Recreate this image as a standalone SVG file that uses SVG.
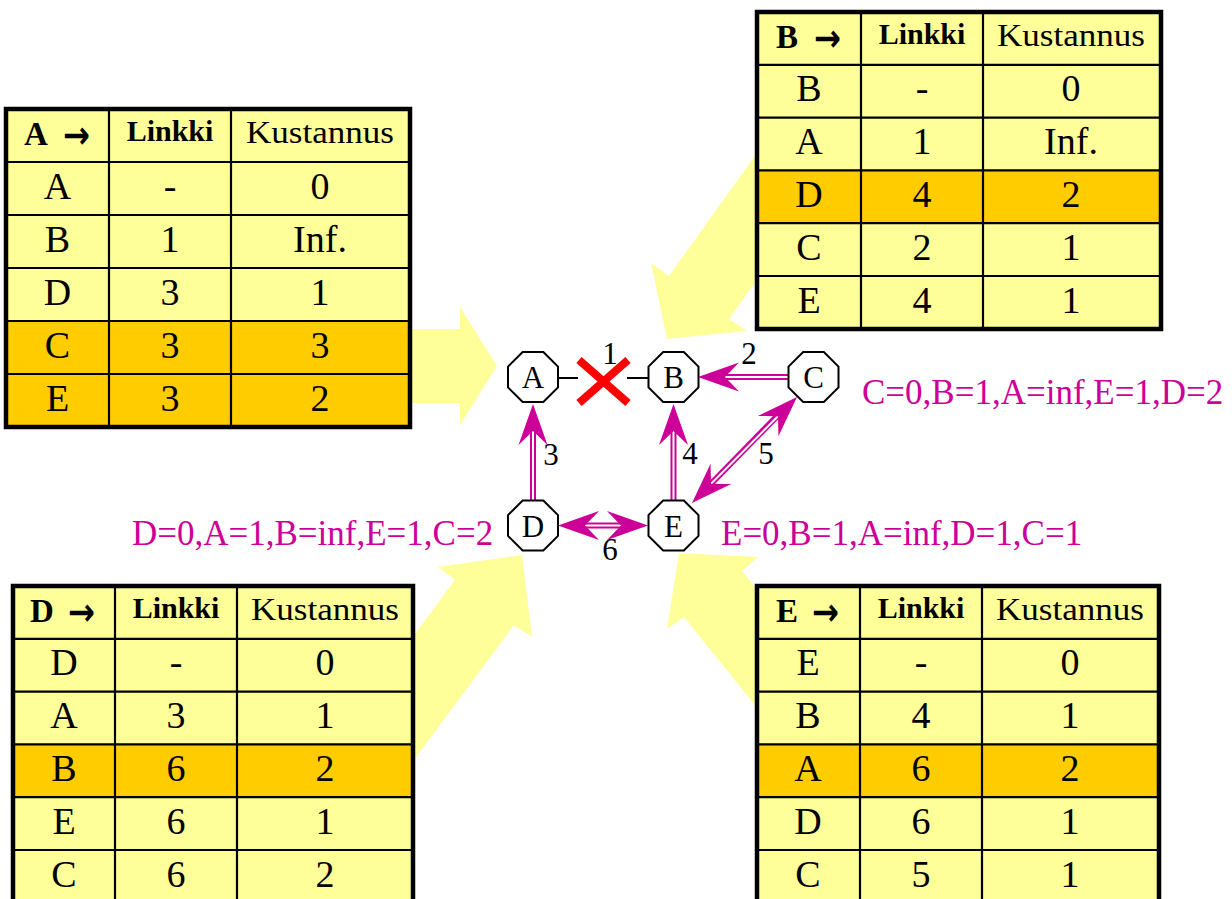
<svg xmlns="http://www.w3.org/2000/svg" width="1232" height="899" viewBox="0 0 1232 899">
<style>
.bg{fill:#FFFFFF}
.ya{fill:#FFFF99}
.ty{fill:#FFFF99}
.to{fill:#FFCC00}
.grid{stroke:#000;stroke-width:2.2;fill:none}
.outer{stroke:#000;stroke-width:4.5;fill:none}
.cell{font-family:"Liberation Serif","Times New Roman",serif;font-size:38px;text-anchor:middle;fill:#000}
.hb{font-family:"Liberation Serif","Times New Roman",serif;font-size:30px;font-weight:bold;text-anchor:middle;fill:#000}
.hl{font-family:"Liberation Serif","Times New Roman",serif;font-size:33px;font-weight:bold;fill:#000}
.har{font-family:"DejaVu Sans",sans-serif;font-size:38px;font-weight:bold;fill:#000}
.hk{font-family:"Liberation Serif","Times New Roman",serif;font-size:32px;text-anchor:middle;fill:#000}
.oct{fill:#fff;stroke:#000;stroke-width:2}
.nl{font-family:"Liberation Serif","Times New Roman",serif;font-size:31px;text-anchor:middle;fill:#000}
.ll{font-family:"Liberation Serif","Times New Roman",serif;font-size:31px;text-anchor:middle;fill:#000}
.mag{font-family:"Liberation Serif","Times New Roman",serif;font-size:35px;fill:#CC0099}
.dl{stroke:#CC0099;stroke-width:6;fill:none}
.dw{stroke:#fff;stroke-width:2;fill:none}
.blk{stroke:#000;stroke-width:2}
.x{stroke:#FF0000;stroke-width:8;stroke-linecap:butt}
</style>
<defs>
<polygon id="oct" points="-10.35,-25 10.35,-25 25,-10.35 25,10.35 10.35,25 -10.35,25 -25,10.35 -25,-10.35"/>
<marker id="ah" markerUnits="userSpaceOnUse" markerWidth="46" markerHeight="34" viewBox="-43 -17 46 34" refX="0" refY="0" orient="auto-start-reverse">
<path d="M0,0 L-41,-14.5 L-27,0 L-41,14.5 Z" fill="#CC0099"/>
</marker>
</defs>
<rect class="bg" x="0" y="0" width="1232" height="899"/>

<g id="yellow-arrows">
<polygon class="ya" points="300,329 460,329 460,307 497,366 460,425 460,403 300,403"/>
<polygon class="ya" points="815,72 669,276 651,263 667,339 747,331 729,319 875,115"/>
<polygon class="ya" points="306,781 455,580 438,567 522,555 532,637 514,625 365,826"/>
<polygon class="ya" points="899,766 742,571 758,557 679,553 667,629 684,617 841,812"/>
</g>

<g id="table-A">
<rect class="ty" x="6" y="109" width="404" height="318"/>
<rect class="to" x="6" y="321" width="404" height="106"/>
<path class="grid" d="M109,109V427M231,109V427M6,162H410M6,215H410M6,268H410M6,321H410M6,374H410"/>
<rect class="outer" x="6" y="109" width="404" height="318"/>
<text class="hl" x="24" y="145">A</text><text class="har" x="63" y="148" textLength="27" lengthAdjust="spacingAndGlyphs">→</text>
<text class="hb" x="170" y="141">Linkki</text>
<text class="hk" x="320" y="143" textLength="148" lengthAdjust="spacingAndGlyphs">Kustannus</text>
<text class="cell" x="57.5" y="199">A</text><text class="cell" x="170" y="199">-</text><text class="cell" x="320" y="199">0</text>
<text class="cell" x="57.5" y="252">B</text><text class="cell" x="170" y="252">1</text><text class="cell" x="320" y="252">Inf.</text>
<text class="cell" x="57.5" y="305">D</text><text class="cell" x="170" y="305">3</text><text class="cell" x="320" y="305">1</text>
<text class="cell" x="57.5" y="358">C</text><text class="cell" x="170" y="358">3</text><text class="cell" x="320" y="358">3</text>
<text class="cell" x="57.5" y="411">E</text><text class="cell" x="170" y="411">3</text><text class="cell" x="320" y="411">2</text>
</g>

<g id="table-B">
<rect class="ty" x="757" y="12" width="404" height="317"/>
<rect class="to" x="757" y="170.4" width="404" height="52.8"/>
<path class="grid" d="M861,12V329M983,12V329M757,64.8H1161M757,117.6H1161M757,170.4H1161M757,223.2H1161M757,276H1161"/>
<rect class="outer" x="757" y="12" width="404" height="317"/>
<text class="hl" x="776" y="48">B</text><text class="har" x="814" y="51" textLength="27" lengthAdjust="spacingAndGlyphs">→</text>
<text class="hb" x="922" y="44">Linkki</text>
<text class="hk" x="1071" y="46" textLength="148" lengthAdjust="spacingAndGlyphs">Kustannus</text>
<text class="cell" x="809" y="101">B</text><text class="cell" x="922" y="101">-</text><text class="cell" x="1071" y="101">0</text>
<text class="cell" x="809" y="154">A</text><text class="cell" x="922" y="154">1</text><text class="cell" x="1071" y="154">Inf.</text>
<text class="cell" x="809" y="207">D</text><text class="cell" x="922" y="207">4</text><text class="cell" x="1071" y="207">2</text>
<text class="cell" x="809" y="260">C</text><text class="cell" x="922" y="260">2</text><text class="cell" x="1071" y="260">1</text>
<text class="cell" x="809" y="313">E</text><text class="cell" x="922" y="313">4</text><text class="cell" x="1071" y="313">1</text>
</g>

<g id="table-D">
<rect class="ty" x="13" y="586" width="400" height="317"/>
<rect class="to" x="13" y="744.4" width="400" height="52.8"/>
<path class="grid" d="M115,586V903M237,586V903M13,638.8H413M13,691.6H413M13,744.4H413M13,797.2H413M13,850H413"/>
<rect class="outer" x="13" y="586" width="400" height="317"/>
<text class="hl" x="30" y="622">D</text><text class="har" x="68" y="625" textLength="27" lengthAdjust="spacingAndGlyphs">→</text>
<text class="hb" x="176" y="618">Linkki</text>
<text class="hk" x="325" y="620" textLength="148" lengthAdjust="spacingAndGlyphs">Kustannus</text>
<text class="cell" x="64" y="675">D</text><text class="cell" x="176" y="675">-</text><text class="cell" x="325" y="675">0</text>
<text class="cell" x="64" y="728">A</text><text class="cell" x="176" y="728">3</text><text class="cell" x="325" y="728">1</text>
<text class="cell" x="64" y="781">B</text><text class="cell" x="176" y="781">6</text><text class="cell" x="325" y="781">2</text>
<text class="cell" x="64" y="834">E</text><text class="cell" x="176" y="834">6</text><text class="cell" x="325" y="834">1</text>
<text class="cell" x="64" y="887">C</text><text class="cell" x="176" y="887">6</text><text class="cell" x="325" y="887">2</text>
</g>

<g id="table-E">
<rect class="ty" x="757" y="586" width="402" height="317"/>
<rect class="to" x="757" y="744.4" width="402" height="52.8"/>
<path class="grid" d="M860,586V903M982,586V903M757,638.8H1159M757,691.6H1159M757,744.4H1159M757,797.2H1159M757,850H1159"/>
<rect class="outer" x="757" y="586" width="402" height="317"/>
<text class="hl" x="776" y="622">E</text><text class="har" x="812" y="625" textLength="27" lengthAdjust="spacingAndGlyphs">→</text>
<text class="hb" x="921" y="618">Linkki</text>
<text class="hk" x="1070" y="620" textLength="148" lengthAdjust="spacingAndGlyphs">Kustannus</text>
<text class="cell" x="808" y="675">E</text><text class="cell" x="921" y="675">-</text><text class="cell" x="1070" y="675">0</text>
<text class="cell" x="808" y="728">B</text><text class="cell" x="921" y="728">4</text><text class="cell" x="1070" y="728">1</text>
<text class="cell" x="808" y="781">A</text><text class="cell" x="921" y="781">6</text><text class="cell" x="1070" y="781">2</text>
<text class="cell" x="808" y="834">D</text><text class="cell" x="921" y="834">6</text><text class="cell" x="1070" y="834">1</text>
<text class="cell" x="808" y="887">C</text><text class="cell" x="921" y="887">5</text><text class="cell" x="1070" y="887">1</text>
</g>

<g id="connectors">
<line class="blk" x1="558" y1="378" x2="578" y2="378"/>
<line class="blk" x1="627" y1="378" x2="649" y2="378"/>
<line class="x" x1="579" y1="360" x2="628" y2="403"/>
<line class="x" x1="579" y1="403" x2="628" y2="360"/>
<text class="ll" x="610" y="364">1</text>
<line class="dl" x1="789" y1="377" x2="712" y2="377"/>
<line class="dw" x1="789" y1="377" x2="698" y2="377" marker-end="url(#ah)"/>
<text class="ll" x="749" y="364">2</text>
<line class="dl" x1="533" y1="500" x2="533" y2="420"/>
<line class="dw" x1="533" y1="500" x2="533" y2="404" marker-end="url(#ah)"/>
<text class="ll" x="551" y="465">3</text>
<line class="dl" x1="673.5" y1="500" x2="673.5" y2="420"/>
<line class="dw" x1="673.5" y1="500" x2="673.5" y2="404" marker-end="url(#ah)"/>
<text class="ll" x="690" y="464">4</text>
<line class="dl" x1="787" y1="406" x2="702" y2="493"/>
<line class="dw" x1="797" y1="397" x2="692" y2="503" marker-start="url(#ah)" marker-end="url(#ah)"/>
<text class="ll" x="766" y="464">5</text>
<line class="dl" x1="572" y1="525.5" x2="634" y2="525.5"/>
<line class="dw" x1="558" y1="525.5" x2="648" y2="525.5" marker-start="url(#ah)" marker-end="url(#ah)"/>
<text class="ll" x="610" y="560">6</text>
</g>

<g id="node-A"><use href="#oct" class="oct" transform="translate(533,377)"/><text class="nl" x="533" y="388">A</text></g>
<g id="node-B"><use href="#oct" class="oct" transform="translate(673.5,377)"/><text class="nl" x="673.5" y="388">B</text></g>
<g id="node-C"><use href="#oct" class="oct" transform="translate(813.5,377)"/><text class="nl" x="813.5" y="388">C</text></g>
<g id="node-D"><use href="#oct" class="oct" transform="translate(533,525.5)"/><text class="nl" x="533" y="536.5">D</text></g>
<g id="node-E"><use href="#oct" class="oct" transform="translate(673.5,525.5)"/><text class="nl" x="673.5" y="536.5">E</text></g>

<g id="vector-labels">
<text class="mag" x="862" y="404">C=0,B=1,A=inf,E=1,D=2</text>
<text class="mag" x="132" y="545">D=0,A=1,B=inf,E=1,C=2</text>
<text class="mag" x="721" y="545">E=0,B=1,A=inf,D=1,C=1</text>
</g>
</svg>
